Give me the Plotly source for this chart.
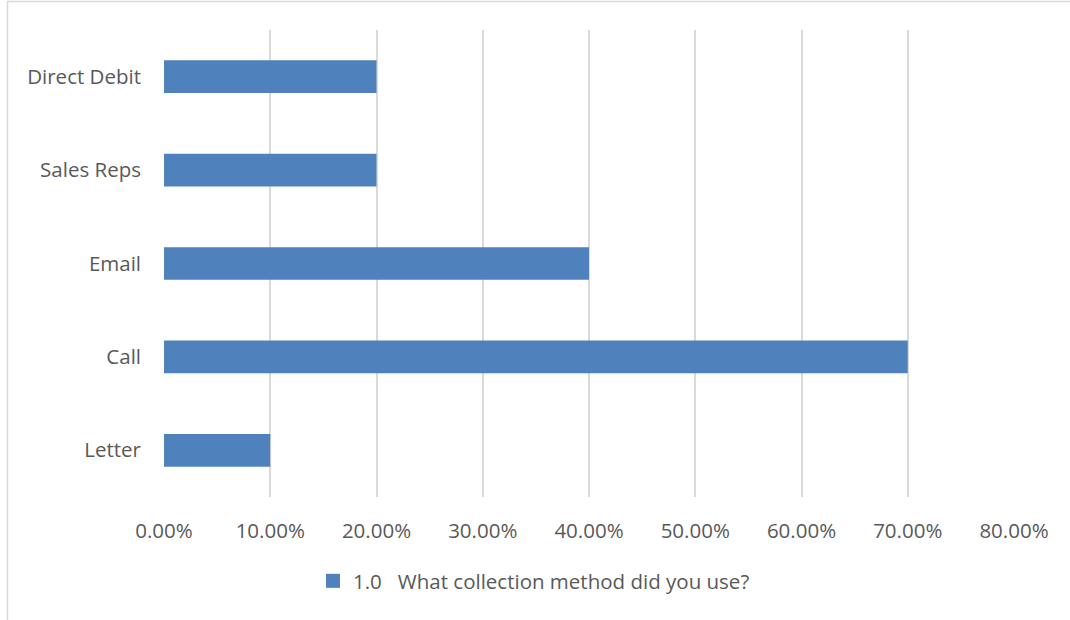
import plotly.graph_objects as go

categories = ["Letter", "Call", "Email", "Sales Reps", "Direct Debit"]
values = [0.10, 0.70, 0.40, 0.20, 0.20]
series_name = "1.0\u00a0\u00a0\u00a0What collection method did you use?"
x_ticks = [0, 0.1, 0.2, 0.3, 0.4, 0.5, 0.6, 0.7, 0.8]

W, H = 1070, 620
L, R, T, B = 164, 56, 30, 123
pw, ph = W - L - R, H - T - B

def px(x):
    return (x - L) / pw

def py(y):
    return (H - B - y) / ph

fig = go.Figure()
fig.add_trace(go.Bar(
    y=categories, x=values, orientation="h",
    marker=dict(color="#4f81bd", line=dict(width=0)),
    name=series_name, showlegend=False,
))
# legend entry with a larger square swatch
fig.add_trace(go.Scatter(
    x=[None], y=[None], mode="markers",
    marker=dict(symbol="square", size=14, color="#4f81bd"),
    name=series_name, showlegend=True,
))

font = dict(family="Open Sans, sans-serif", size=20.5, color="#595959")

fig.update_layout(
    width=W, height=H,
    margin=dict(l=L, r=R, t=T, b=B),
    paper_bgcolor="white", plot_bgcolor="white",
    bargap=0.65,
    font=font,
    showlegend=True,
    legend=dict(orientation="h", x=px(313), xanchor="left", y=py(581), yanchor="middle",
                font=font, itemwidth=30),
    xaxis=dict(range=[0, 0.8], tickvals=x_ticks, tickformat=".2%",
               showgrid=True, gridcolor="#d9d9d9", gridwidth=2,
               zeroline=False, showline=False, ticks="",
               ticklabelstandoff=19, tickfont=font),
    yaxis=dict(showgrid=False, zeroline=False, showline=False, ticks="",
               ticklabelstandoff=22, tickfont=font),
    shapes=[dict(type="rect", xref="paper", yref="paper",
                 x0=px(7.5), x1=px(1200), y0=py(1.5), y1=py(800),
                 line=dict(color="#d9d9d9", width=1.5), fillcolor="rgba(0,0,0,0)", layer="below")],
)

fig.write_html("out.html")
